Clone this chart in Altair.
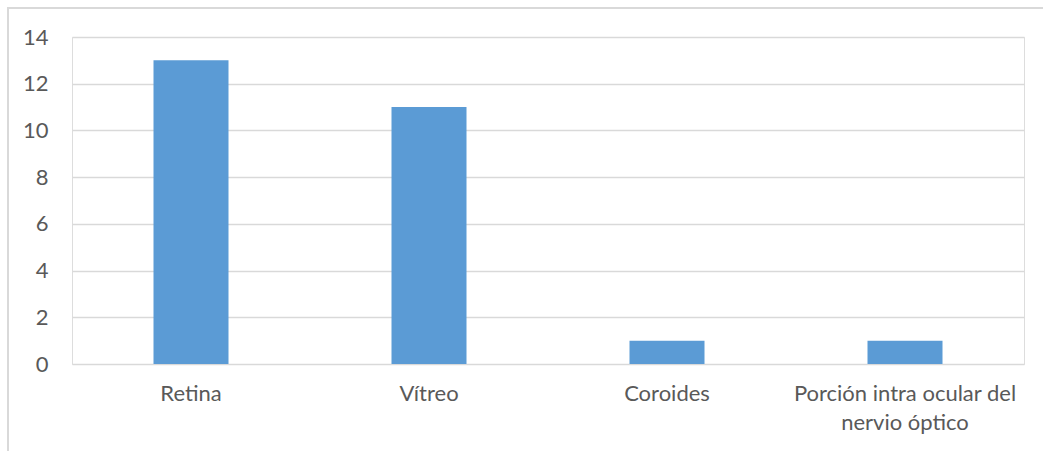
import altair as alt
import pandas as pd

categories = ["Retina", "Vítreo", "Coroides", "Porción intra ocular del nervio óptico"]
values = [13, 11, 1, 1]
y_ticks = [0, 2, 4, 6, 8, 10, 12, 14]

df = pd.DataFrame({"categoria": categories, "valor": values})

W, H = 952, 327
FONT = "Lato"
TEXT = "#595959"

label_expr = (
    "datum.value == 'Porción intra ocular del nervio óptico' ? "
    "['Porción intra ocular del', 'nervio óptico'] : datum.value"
)

bars = alt.Chart(df).mark_bar(color="#5b9bd5", size=75).encode(
    x=alt.X(
        "categoria:N",
        sort=categories,
        title=None,
        scale=alt.Scale(paddingInner=0, paddingOuter=0),
        axis=alt.Axis(
            labelAngle=0,
            labelExpr=label_expr,
            labelFont=FONT,
            labelFontSize=22,
            labelColor=TEXT,
            labelPadding=19,
            labelLineHeight=29,
            labelLimit=400,
            ticks=False,
            domain=False,
            grid=False,
        ),
    ),
    y=alt.Y(
        "valor:Q",
        title=None,
        scale=alt.Scale(domain=[0, 14], nice=False),
        axis=alt.Axis(
            values=y_ticks,
            labelFont=FONT,
            labelFontSize=22,
            labelColor=TEXT,
            labelPadding=24,
            ticks=False,
            domain=False,
            gridColor="#d9d9d9",
            gridWidth=1.3,
        ),
    ),
)

# chart frame (outer border)
frame = alt.Chart(df).mark_rect(
    fill=None, stroke="#d9d9d9", strokeWidth=1.5
).encode(
    x=alt.value(-64),
    x2=alt.value(W + 40),
    y=alt.value(-29),
    y2=alt.value(H + 120),
)

chart = (
    alt.layer(frame, bars)
    .properties(
        width=W,
        height=H,
        padding={"left": 72, "top": 37, "right": 19, "bottom": 87},
        autosize=alt.AutoSizeParams(type="none"),
    )
    .configure_view(stroke=None)
    .configure(background="white")
)

chart.save("out.html", embed_options={"renderer": "svg", "actions": False})
